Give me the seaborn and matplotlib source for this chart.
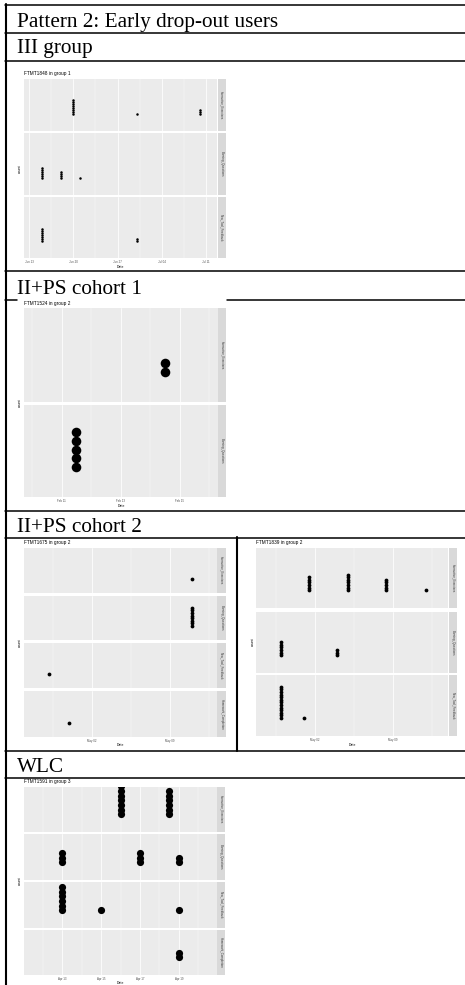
import matplotlib
matplotlib.use("Agg")
import matplotlib.pyplot as plt
import matplotlib.dates as mdates
from matplotlib.lines import Line2D
from matplotlib.patches import Rectangle
import pandas as pd
import seaborn as sns

sns.set_style("white")
plt.rcParams["font.family"] = ["Liberation Sans", "DejaVu Sans"]

# ---------------------------------------------------------------- data
CAT_EX = "Interactive_Exercises"
CAT_BQ = "Burning_Questions"
CAT_NT = "New_Tool_Feedback"
CAT_HW = "Homework_Completion"

# III group, FTMT1848
III_DATES = ["2019-06-20", "2019-06-30", "2019-07-10",
             "2019-06-15", "2019-06-18", "2019-06-21",
             "2019-06-15", "2019-06-30"]
III_CATS = [CAT_EX, CAT_EX, CAT_EX, CAT_BQ, CAT_BQ, CAT_BQ, CAT_NT, CAT_NT]
III_COUNTS = [8, 1, 3, 6, 4, 1, 7, 2]
III_TICKS = ["2019-06-13", "2019-06-20", "2019-06-27", "2019-07-04", "2019-07-11"]

# II+PS cohort 1, FTMT1524
C1_DATES = ["2019-02-14 12:00", "2019-02-11 12:00"]
C1_CATS = [CAT_EX, CAT_BQ]
C1_COUNTS = [2, 5]
C1_TICKS = ["2019-02-11", "2019-02-13", "2019-02-15"]

# II+PS cohort 2, FTMT1675
C2A_DATES = ["2019-05-11", "2019-05-11", "2019-04-28 04:00", "2019-04-30"]
C2A_CATS = [CAT_EX, CAT_BQ, CAT_NT, CAT_HW]
C2A_COUNTS = [1, 8, 1, 1]
C2A_TICKS = ["2019-05-02", "2019-05-09"]

# II+PS cohort 2, FTMT1839
C2B_DATES = ["2019-05-01 12:00", "2019-05-05", "2019-05-08 10:00", "2019-05-12",
             "2019-04-29", "2019-05-04",
             "2019-04-29", "2019-05-01"]
C2B_CATS = [CAT_EX, CAT_EX, CAT_EX, CAT_EX, CAT_BQ, CAT_BQ, CAT_NT, CAT_NT]
C2B_COUNTS = [6, 7, 5, 1, 6, 3, 13, 1]
C2B_TICKS = ["2019-05-02", "2019-05-09"]

# WLC, FTMT1591
WLC_DATES = ["2019-04-16", "2019-04-18 12:00",
             "2019-04-13", "2019-04-17", "2019-04-19",
             "2019-04-13", "2019-04-15", "2019-04-19",
             "2019-04-19"]
WLC_CATS = [CAT_EX, CAT_EX, CAT_BQ, CAT_BQ, CAT_BQ, CAT_NT, CAT_NT, CAT_NT, CAT_HW]
WLC_COUNTS = [7, 6, 3, 3, 2, 6, 1, 1, 2]
WLC_TICKS = ["2019-04-13", "2019-04-15", "2019-04-17", "2019-04-19"]

ROW_TITLES = ["Pattern 2: Early drop-out users", "III group", "II+PS cohort 1",
              "II+PS cohort 2", "WLC"]

# ---------------------------------------------------------------- figure
W, H = 465, 985
fig = plt.figure(figsize=(W / 100, H / 100), dpi=100)
fig.patch.set_facecolor("white")


def fx(x):
    return x / W


def fy(y):
    return 1 - y / H


def stacked(dates, cats, counts):
    rows = []
    for d, c, n in zip(dates, cats, counts):
        for k in range(n):
            rows.append({"date": pd.Timestamp(d), "cat": c, "level": k})
    return pd.DataFrame(rows)


def dot_chart(df, cats, title, x0, x1, strip, panels, xlim, ticks,
              dot, step, base, title_y, date_y, count_x):
    major = pd.to_datetime(ticks)
    minor = major[:-1] + (major[1:] - major[:-1]) / 2
    minor = minor.append(pd.DatetimeIndex([major[0] - (major[1] - major[0]) / 2,
                                           major[-1] + (major[1] - major[0]) / 2]))
    s_pt = (dot * 0.72) ** 2
    for i, (cat, (top, bot)) in enumerate(zip(cats, panels)):
        ax = fig.add_axes([fx(x0), fy(bot), fx(x1) - fx(x0), (bot - top) / H])
        ax.set_facecolor("#EBEBEB")
        for sp in ax.spines.values():
            sp.set_visible(False)
        ax.set_xticks(major)
        ax.set_xticks(minor, minor=True)
        ax.grid(which="major", axis="x", color="white", lw=0.55)
        ax.grid(which="minor", axis="x", color="white", lw=0.28)
        ax.grid(which="both", axis="y", visible=False)
        ax.set_axisbelow(True)
        sub = df[df["cat"] == cat]
        sns.scatterplot(data=sub, x="date", y="level", ax=ax, s=s_pt,
                        color="black", linewidth=0, legend=False, zorder=3)
        ax.set_xlim(pd.Timestamp(xlim[0]), pd.Timestamp(xlim[1]))
        h = bot - top
        lo = -(base + dot / 2) / step
        ax.set_ylim(lo, lo + h / step)
        ax.set_yticks([])
        ax.set_xlabel("")
        ax.set_ylabel("")
        ax.xaxis.set_major_formatter(mdates.DateFormatter("%b %d"))
        ax.tick_params(axis="x", which="minor", length=0)
        if i == len(cats) - 1:
            ax.tick_params(axis="x", which="major", labelsize=2.1, length=1.0,
                           width=0.3, color="#333333", labelcolor="#4D4D4D", pad=0.6)
        else:
            ax.tick_params(axis="x", which="major", length=0, labelbottom=False)
        # facet strip on the right
        fig.patches.append(Rectangle((fx(strip[0]), fy(bot)),
                                     fx(strip[1]) - fx(strip[0]), h / H,
                                     transform=fig.transFigure,
                                     facecolor="#D9D9D9", edgecolor="none"))
        fig.text(fx((strip[0] + strip[1]) / 2), fy((top + bot) / 2), cat,
                 rotation=-90, ha="center", va="center", fontsize=2.1,
                 color="#333333")
    fig.text(fx(x0), fy(title_y), title, ha="left", va="center",
             fontsize=3.4, color="black")
    fig.text(fx((x0 + x1) / 2), fy(date_y), "Date", ha="center", va="center",
             fontsize=2.5, color="black")
    fig.text(fx(count_x), fy((panels[0][0] + panels[-1][1]) / 2), "count",
             rotation=90, ha="center", va="center", fontsize=2.5, color="black")


# ---------------------------------------------------------------- table lines
LW = 1.1


def hline(y, xa=5, xb=465, lw=LW):
    fig.lines.append(Line2D([fx(xa), fx(xb)], [fy(y), fy(y)], color="black",
                            lw=lw, transform=fig.transFigure, zorder=5))


def vline(x, ya, yb, lw=LW):
    fig.lines.append(Line2D([fx(x), fx(x)], [fy(ya), fy(yb)], color="black",
                            lw=lw, transform=fig.transFigure, zorder=5))


hline(4.5)
hline(32.5)
hline(60.5)
hline(270.5)
hline(299.5, 5, 17)
hline(299.5, 227, 465)
hline(510.5)
hline(537.5)
hline(750.5)
hline(777.5)
vline(6, 4, 985, lw=1.5)
vline(236.8, 537, 750.5, lw=1.5)

serif = ["Liberation Serif", "DejaVu Serif"]
for text, base_y in zip(ROW_TITLES, [26.5, 53.5, 293.5, 532.5, 771.5]):
    fig.text(fx(17), fy(base_y), text, ha="left", va="baseline",
             fontsize=15.3, family=serif, color="black")

# ---------------------------------------------------------------- charts
dot_chart(stacked(III_DATES, III_CATS, III_COUNTS), [CAT_EX, CAT_BQ, CAT_NT],
          "FTMT1848 in group 1", 24, 217, (217.5, 225.5),
          [(79, 131), (133, 195), (197, 258)],
          ("2019-06-12 05:00", "2019-07-12 17:00"), III_TICKS,
          dot=2.5, step=1.9, base=16, title_y=74, date_y=266.5, count_x=20)

dot_chart(stacked(C1_DATES, C1_CATS, C1_COUNTS), [CAT_EX, CAT_BQ],
          "FTMT1524 in group 2", 24, 218, (218, 226),
          [(308, 402), (405, 497)],
          ("2019-02-09 17:30", "2019-02-16 07:00"), C1_TICKS,
          dot=9.6, step=8.6, base=25.5, title_y=303.5, date_y=506, count_x=20)

dot_chart(stacked(C2A_DATES, C2A_CATS, C2A_COUNTS), [CAT_EX, CAT_BQ, CAT_NT, CAT_HW],
          "FTMT1675 in group 2", 24, 217, (217, 225.5),
          [(548, 593), (596, 640), (643, 688), (691, 737)],
          ("2019-04-25 22:00", "2019-05-13 06:00"), C2A_TICKS,
          dot=3.8, step=2.6, base=12, title_y=542.7, date_y=745, count_x=20)

dot_chart(stacked(C2B_DATES, C2B_CATS, C2B_COUNTS), [CAT_EX, CAT_BQ, CAT_NT],
          "FTMT1839 in group 2", 255.7, 448.3, (449, 457),
          [(548, 608), (612, 673), (675, 736)],
          ("2019-04-26 17:00", "2019-05-14 00:00"), C2B_TICKS,
          dot=3.8, step=2.6, base=16, title_y=542.7, date_y=745, count_x=253)

dot_chart(stacked(WLC_DATES, WLC_CATS, WLC_COUNTS), [CAT_EX, CAT_BQ, CAT_NT, CAT_HW],
          "FTMT1591 in group 3", 24, 217, (217, 225),
          [(787, 832), (834, 880), (882, 928), (930, 975)],
          ("2019-04-11 01:00", "2019-04-20 23:00"), WLC_TICKS,
          dot=7.2, step=4.7, base=14, title_y=781, date_y=983, count_x=20)

fig.savefig("out.png", dpi=100, facecolor="white")
